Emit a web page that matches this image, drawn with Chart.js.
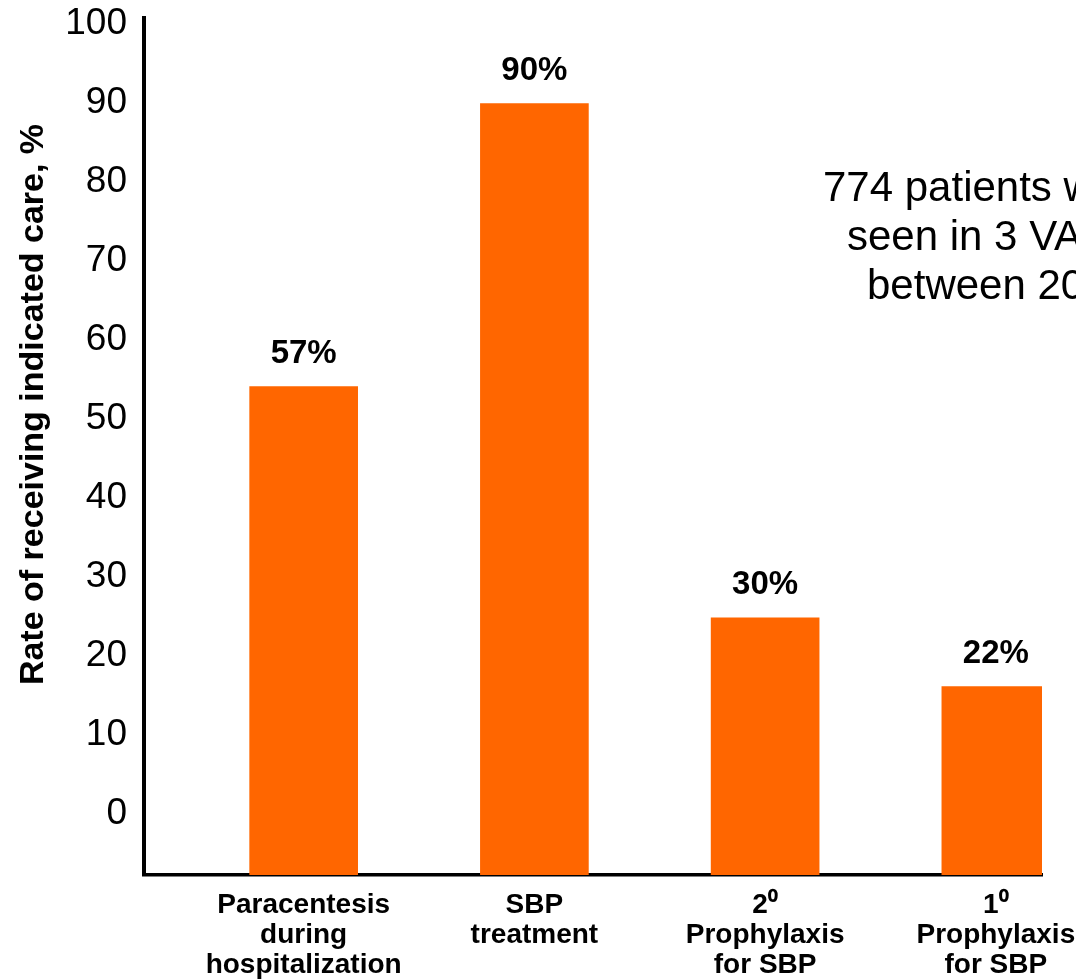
<!DOCTYPE html>
<html>
<head>
<meta charset="utf-8">
<title>Rate of receiving indicated care</title>
<script src="https://cdn.jsdelivr.net/npm/chart.js@4/dist/chart.umd.min.js"></script>
<style>
  html, body { margin: 0; padding: 0; background: #ffffff; }
  #wrap { width: 1076px; height: 979px; position: relative; }
</style>
</head>
<body>
<div id="wrap"><canvas id="chart" width="1076" height="979"></canvas></div>
<script>
// Care categories (multi-line labels under each bar)
const categories = [
  ['Paracentesis', 'during', 'hospitalization'],
  ['SBP', 'treatment'],
  ['2\u2070', 'Prophylaxis', 'for SBP'],
  ['1\u2070', 'Prophylaxis', 'for SBP']
];
// Percentage of patients receiving the indicated care
const careRates = [57, 90, 30, 22];
// Labels printed along the vertical axis
const yTickValues = [0, 10, 20, 30, 40, 50, 60, 70, 80, 90, 100];
const yTitle = 'Rate of receiving indicated care, %';
// Cohort note at the right of the plot
const noteLines = ['774 patients w', 'seen in 3 VA', 'between 20'];

const FONT = '"Liberation Sans", Arial, Helvetica, sans-serif';
const ORANGE = '#FF6600';

// Percent labels above each bar
const valueLabels = {
  id: 'valueLabels',
  afterDatasetsDraw(chart) {
    const ctx = chart.ctx;
    const meta = chart.getDatasetMeta(0);
    ctx.save();
    ctx.font = 'bold 33px ' + FONT;
    ctx.fillStyle = '#000';
    ctx.textAlign = 'center';
    ctx.textBaseline = 'middle';
    meta.data.forEach((bar, i) => {
      ctx.fillText(careRates[i] + '%', bar.x, bar.y - 33);
    });
    ctx.restore();
  }
};

// Rotated axis title and the cohort note
const annotations = {
  id: 'annotations',
  afterDraw(chart) {
    const ctx = chart.ctx;
    const area = chart.chartArea;
    ctx.save();
    ctx.fillStyle = '#000';
    ctx.translate(43, (area.top + area.bottom) / 2 - 42);
    ctx.rotate(-Math.PI / 2);
    ctx.font = 'bold 34px ' + FONT;
    ctx.textAlign = 'center';
    ctx.textBaseline = 'alphabetic';
    ctx.fillText(yTitle, 0, 0);
    ctx.restore();

    ctx.save();
    ctx.fillStyle = '#000';
    ctx.font = '42px ' + FONT;
    ctx.textAlign = 'left';
    ctx.textBaseline = 'alphabetic';
    const starts = [823, 847, 867];
    noteLines.forEach((line, i) => {
      ctx.fillText(line, starts[i], 201 + i * 49);
    });
    ctx.restore();
  }
};

Chart.defaults.color = '#000';
Chart.defaults.font.family = FONT;

new Chart(document.getElementById('chart'), {
  type: 'bar',
  data: {
    datasets: [{
      data: careRates.map((v, i) => ({ x: i, y: v })),
      backgroundColor: ORANGE,
      borderWidth: 0,
      barThickness: 108,
      clip: 0,
      xAxisID: 'x',
      yAxisID: 'y'
    }]
  },
  options: {
    responsive: false,
    devicePixelRatio: 1,
    animation: false,
    layout: { padding: { top: 18, right: 34, left: 0, bottom: 0 } },
    plugins: {
      legend: { display: false },
      tooltip: { enabled: false }
    },
    scales: {
      x: {
        type: 'linear',
        position: 'bottom',
        offset: false,
        min: -0.692,
        max: 3.2,
        grid: { display: false, drawTicks: false, offset: false },
        border: { display: true, color: '#000', width: 3.5 },
        afterBuildTicks(scale) {
          scale.ticks = categories.map((_, i) => ({ value: i }));
        },
        afterFit(scale) {
          scale.height = 104;
          scale.paddingLeft = 0;
          scale.paddingRight = 0;
        },
        ticks: {
          autoSkip: false,
          maxRotation: 0,
          minRotation: 0,
          padding: 15,
          color: '#000',
          font: { family: FONT, size: 28, weight: 'bold', lineHeight: 1.07 },
          callback: (value) => categories[value]
        }
      },
      y: {
        type: 'linear',
        display: false,
        min: 0,
        max: 100
      },
      yLabels: {
        type: 'linear',
        position: 'left',
        min: -7.8,
        max: 100.7,
        grid: { display: false, drawTicks: false },
        border: { display: true, color: '#000', width: 4 },
        afterBuildTicks(scale) {
          scale.ticks = yTickValues.map(v => ({ value: v }));
        },
        afterFit(scale) {
          scale.width = 144;
          scale.paddingTop = 0;
          scale.paddingBottom = 0;
        },
        ticks: {
          padding: 17,
          color: '#000',
          font: { family: FONT, size: 37, lineHeight: 0.9 },
          callback: (value) => String(value)
        }
      }
    }
  },
  plugins: [valueLabels, annotations]
});
</script>
</body>
</html>
